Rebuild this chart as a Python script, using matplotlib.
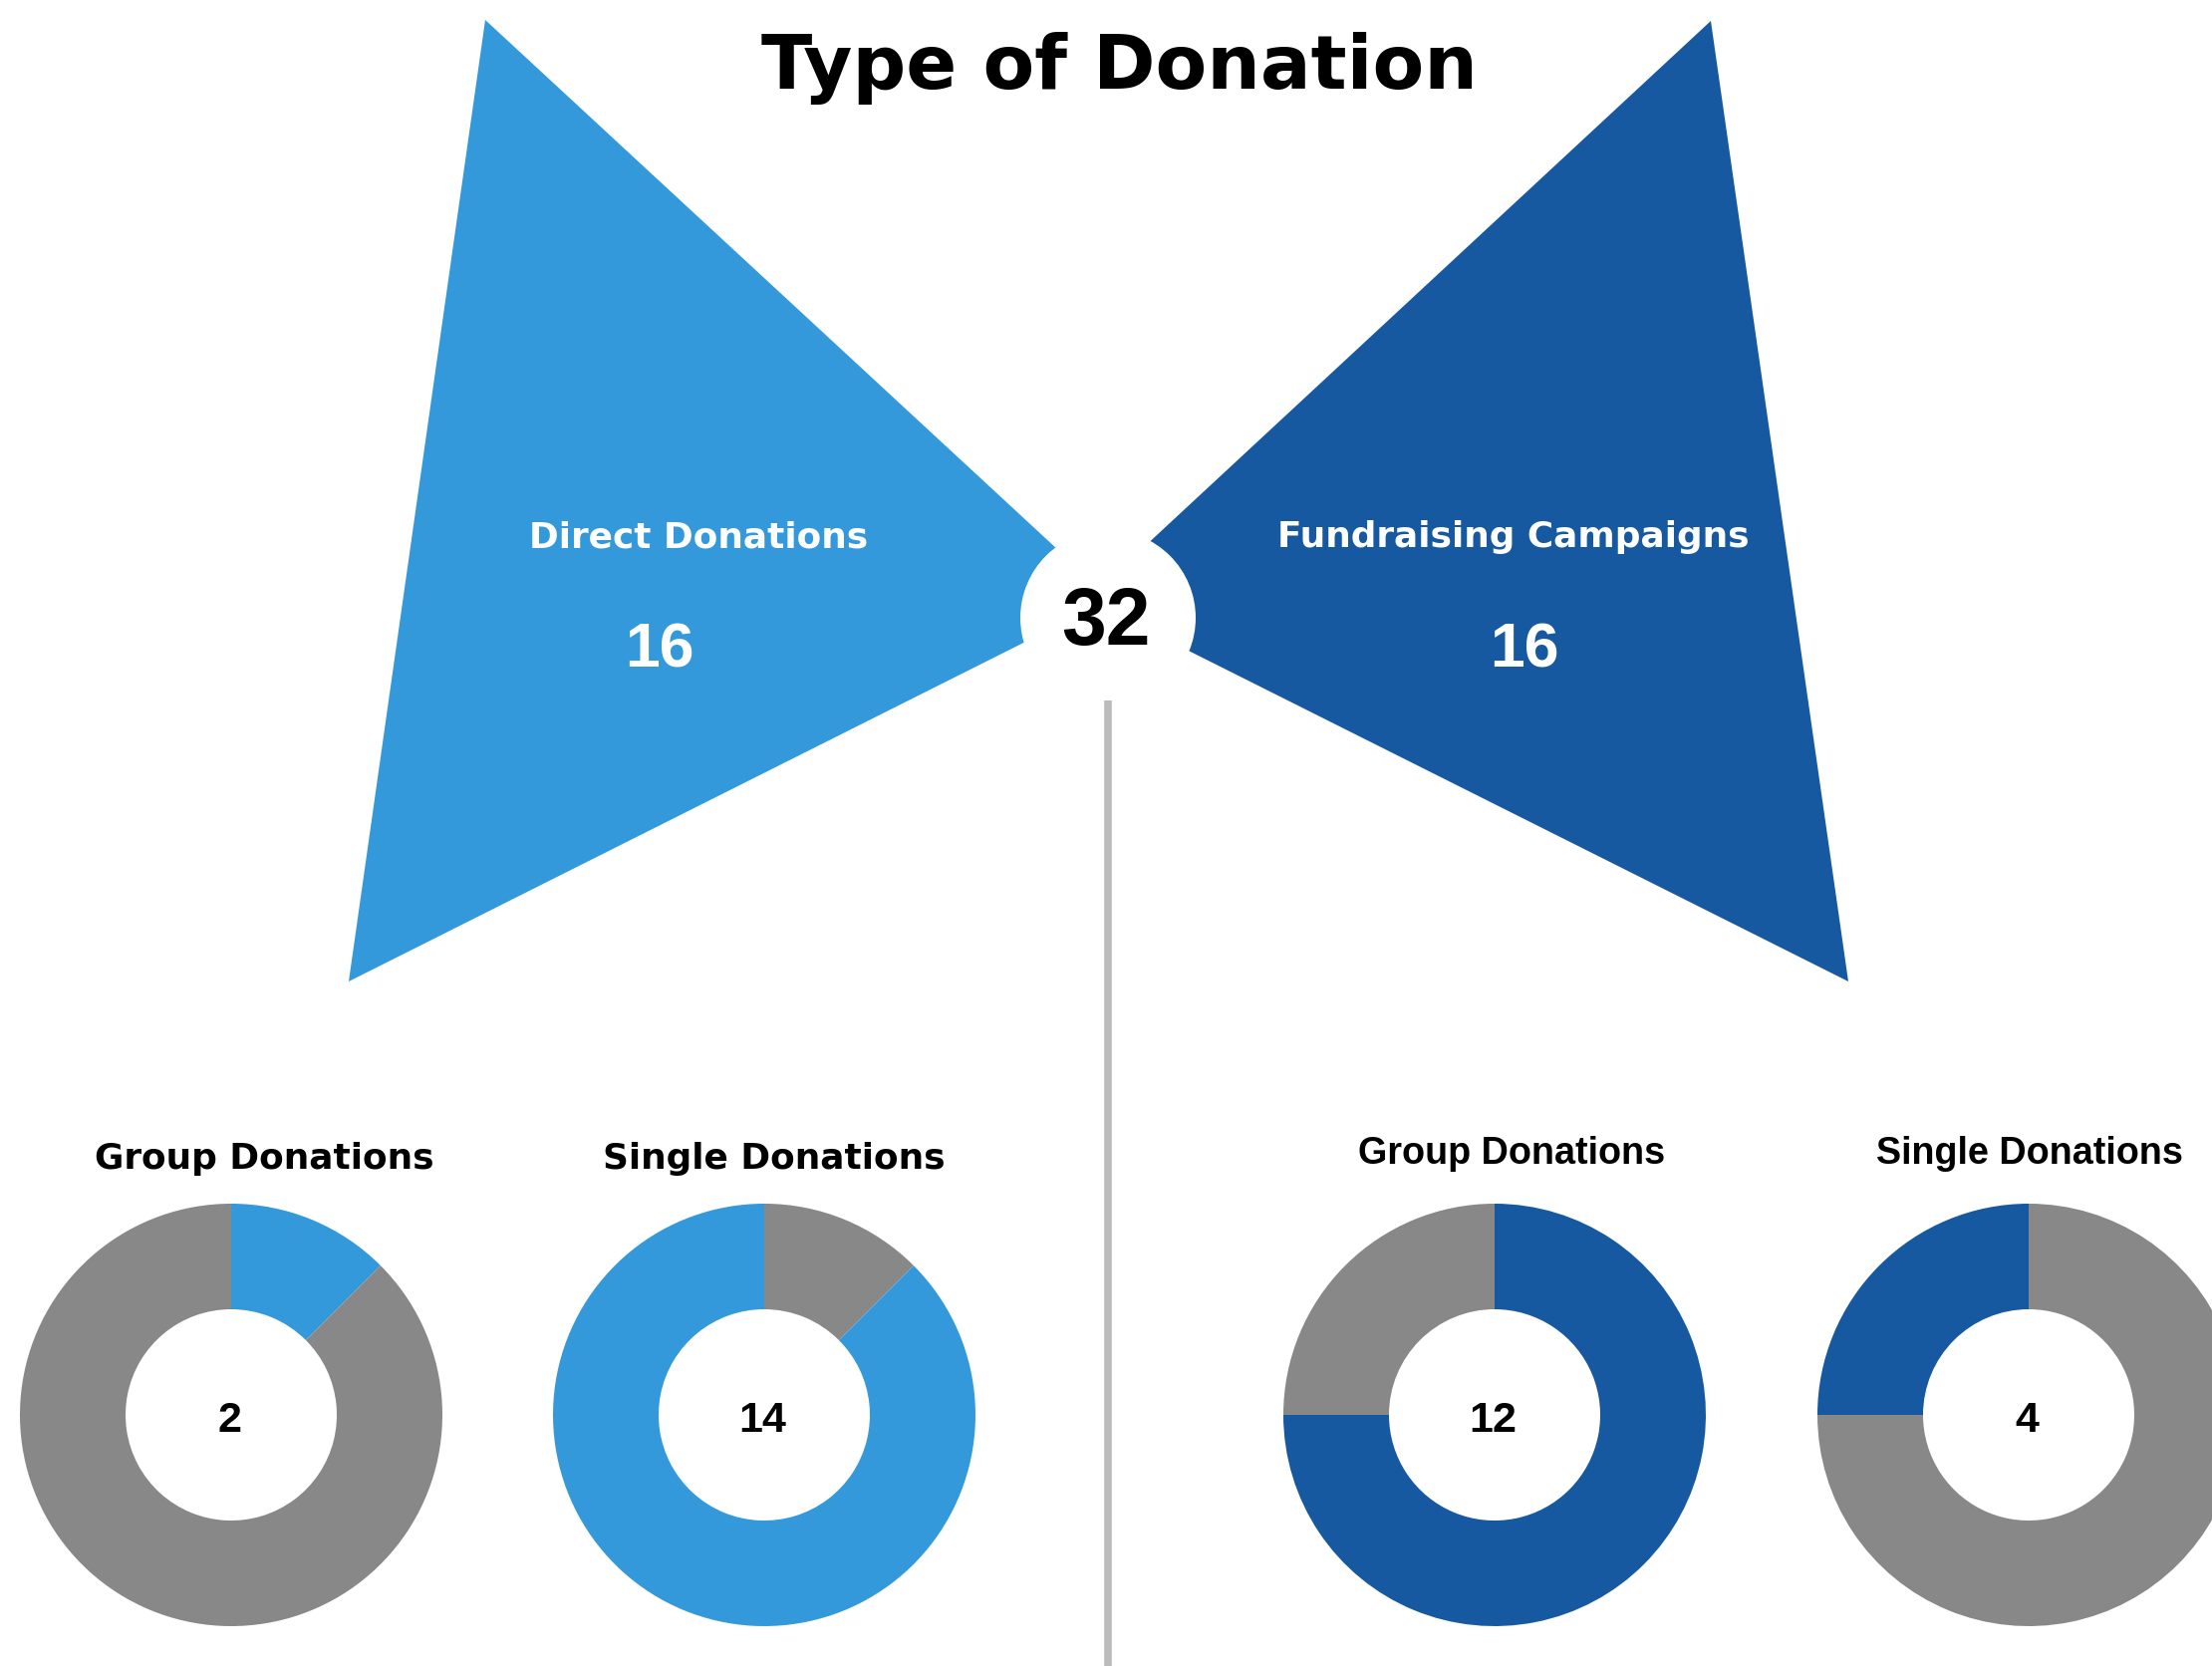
import matplotlib
matplotlib.use("Agg")
import matplotlib.pyplot as plt
from matplotlib.patches import Polygon, Circle

# ---------------- data ----------------
title = "Type of Donation"
total = 32
categories = ["Direct Donations", "Fundraising Campaigns"]
category_totals = [16, 16]
sub_labels = ["Group Donations", "Single Donations"]
group_values = [2, 12]    # group donations per category
single_values = [14, 4]   # single donations per category

# ---------------- style / layout ----------------
W, H = 2220, 1672
LIGHT = "#3499db"
DARK = "#1759a0"
GRAY = "#888888"
LINE = "#bbbbbb"
cat_colors = [LIGHT, DARK]
HEAD = "DejaVu Sans"
NUM = "Liberation Sans"

def Y(p):
    return H - p

fig = plt.figure(figsize=(W / 100, H / 100), dpi=100)
ax = fig.add_axes([0, 0, 1, 1])
ax.axis("off")

# bow-tie shapes (left = first category, right = second)
shapes = [
    [(487, 20), (1115, 601), (350, 985)],
    [(1717, 21), (1091, 602), (1855, 985)],
]
for pts, col in zip(shapes, cat_colors):
    ax.add_patch(Polygon([(x, Y(y)) for x, y in pts], closed=True,
                         facecolor=col, edgecolor="none", zorder=1))
# central white disc with total
ax.add_patch(Circle((1112, Y(620)), 88, facecolor="white", edgecolor="none", zorder=2))
ax.text(1110, Y(647), str(total), ha="center", va="baseline", fontsize=58,
        fontweight="bold", family=NUM, color="black", zorder=3)

# divider line
ax.plot([1112, 1112], [Y(703), Y(H + 5)], color=LINE, lw=5.5,
        solid_capstyle="butt", zorder=3)

# title
ax.text(1123, Y(89), title, ha="center", va="baseline", fontsize=54.2,
        fontweight="bold", family=HEAD, color="black", zorder=3)

# category labels & totals
cat_label_x = [701, 1519]
cat_num_x = [662, 1530]
for i, (lab, val) in enumerate(zip(categories, category_totals)):
    ax.text(cat_label_x[i], Y(549), lab, ha="center", va="baseline", fontsize=25.8,
            fontweight="bold", family=HEAD, color="white", zorder=3)
    ax.text(cat_num_x[i], Y(670), str(val), ha="center", va="baseline", fontsize=45,
            fontweight="bold", family=NUM, color="white", zorder=3)

# donuts
donut_cx = [[232, 767], [1500, 2036]]
donut_cy = 1420
R_OUT, R_IN = 212, 106
title_x = [[265, 777], [1517, 2037]]
title_base = [1173, 1168]
title_font = [(HEAD, 25.8), (NUM, 27.2)]

for i in range(2):
    vals = [group_values[i], single_values[i]]
    for j in range(2):
        if j == 0:
            cols = [cat_colors[i], GRAY]
        else:
            cols = [GRAY, cat_colors[i]]
        ax.pie(vals, colors=cols, center=(donut_cx[i][j], Y(donut_cy)), radius=R_OUT,
               startangle=90, counterclock=False, frame=True,
               wedgeprops=dict(width=R_OUT - R_IN, linewidth=0))
        ax.text(donut_cx[i][j] - 2, Y(1437), str(vals[j]), ha="center", va="baseline",
                fontsize=31, fontweight="bold", family=NUM, color="black", zorder=3)
        fam, fs = title_font[i]
        ax.text(title_x[i][j], Y(title_base[i]), sub_labels[j], ha="center",
                va="baseline", fontsize=fs, fontweight="bold", family=fam,
                color="black", zorder=3)

ax.set_xlim(0, W)
ax.set_ylim(0, H)
ax.set_aspect("equal", adjustable="box")
ax.axis("off")

fig.savefig("out.png", dpi=100, facecolor="white")
